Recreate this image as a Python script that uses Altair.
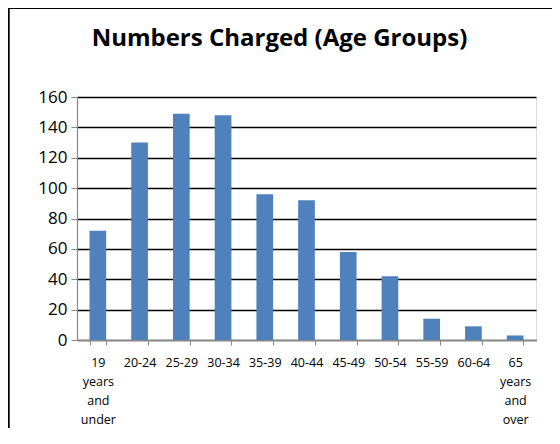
import altair as alt
import pandas as pd

categories = ["19 years and under", "20-24", "25-29", "30-34", "35-39", "40-44",
              "45-49", "50-54", "55-59", "60-64", "65 years and over"]
values = [72, 130, 149, 148, 96, 92, 58, 42, 14, 9, 3]
y_ticks = [0, 20, 40, 60, 80, 100, 120, 140, 160]

df = pd.DataFrame({"group": categories, "count": values})

W, H = 459, 243

bars = alt.Chart(df).mark_bar(color="#4F81BD").encode(
    x=alt.X("group:N", sort=categories,
            scale=alt.Scale(paddingInner=0.6, paddingOuter=0.3),
            axis=alt.Axis(title=None, labelAngle=0, labelExpr="split(datum.label, ' ')",
                          labelFont="Open Sans", labelFontSize=12.5, labelColor="black",
                          labelLineHeight=19, labelPadding=11,
                          tickBand="extent", tickColor="#888888", tickSize=5,
                          domainColor="#888888", domainWidth=1.2, grid=False)),
    y=alt.Y("count:Q", scale=alt.Scale(domain=[0, 160], nice=False),
            axis=alt.Axis(title=None, values=y_ticks, labelFont="Open Sans",
                          labelFontSize=17, labelColor="black", labelPadding=4,
                          tickColor="#888888", tickSize=6, domainColor="#888888",
                          domainWidth=1.2, grid=True, gridColor="black", gridWidth=1.5)),
)

border = alt.Chart(df).mark_rect(fill=None, stroke="black", strokeWidth=1.2).encode(
    x=alt.value(-68.5), x2=alt.value(700), y=alt.value(-88.5), y2=alt.value(600)
)

chart = alt.layer(bars, border).properties(
    width=W, height=H,
    title=alt.TitleParams("Numbers Charged (Age Groups)", font="Open Sans",
                          fontSize=24, fontWeight="bold", color="black",
                          anchor="middle", frame="group", dx=-27, offset=-43),
    padding={"left": 69, "top": 89, "right": 16, "bottom": 88},
    autosize=alt.AutoSizeParams(type="none"),
).configure_view(stroke=None).configure(background="white")

chart.save("out.html", embed_options={"renderer": "svg", "actions": False})
